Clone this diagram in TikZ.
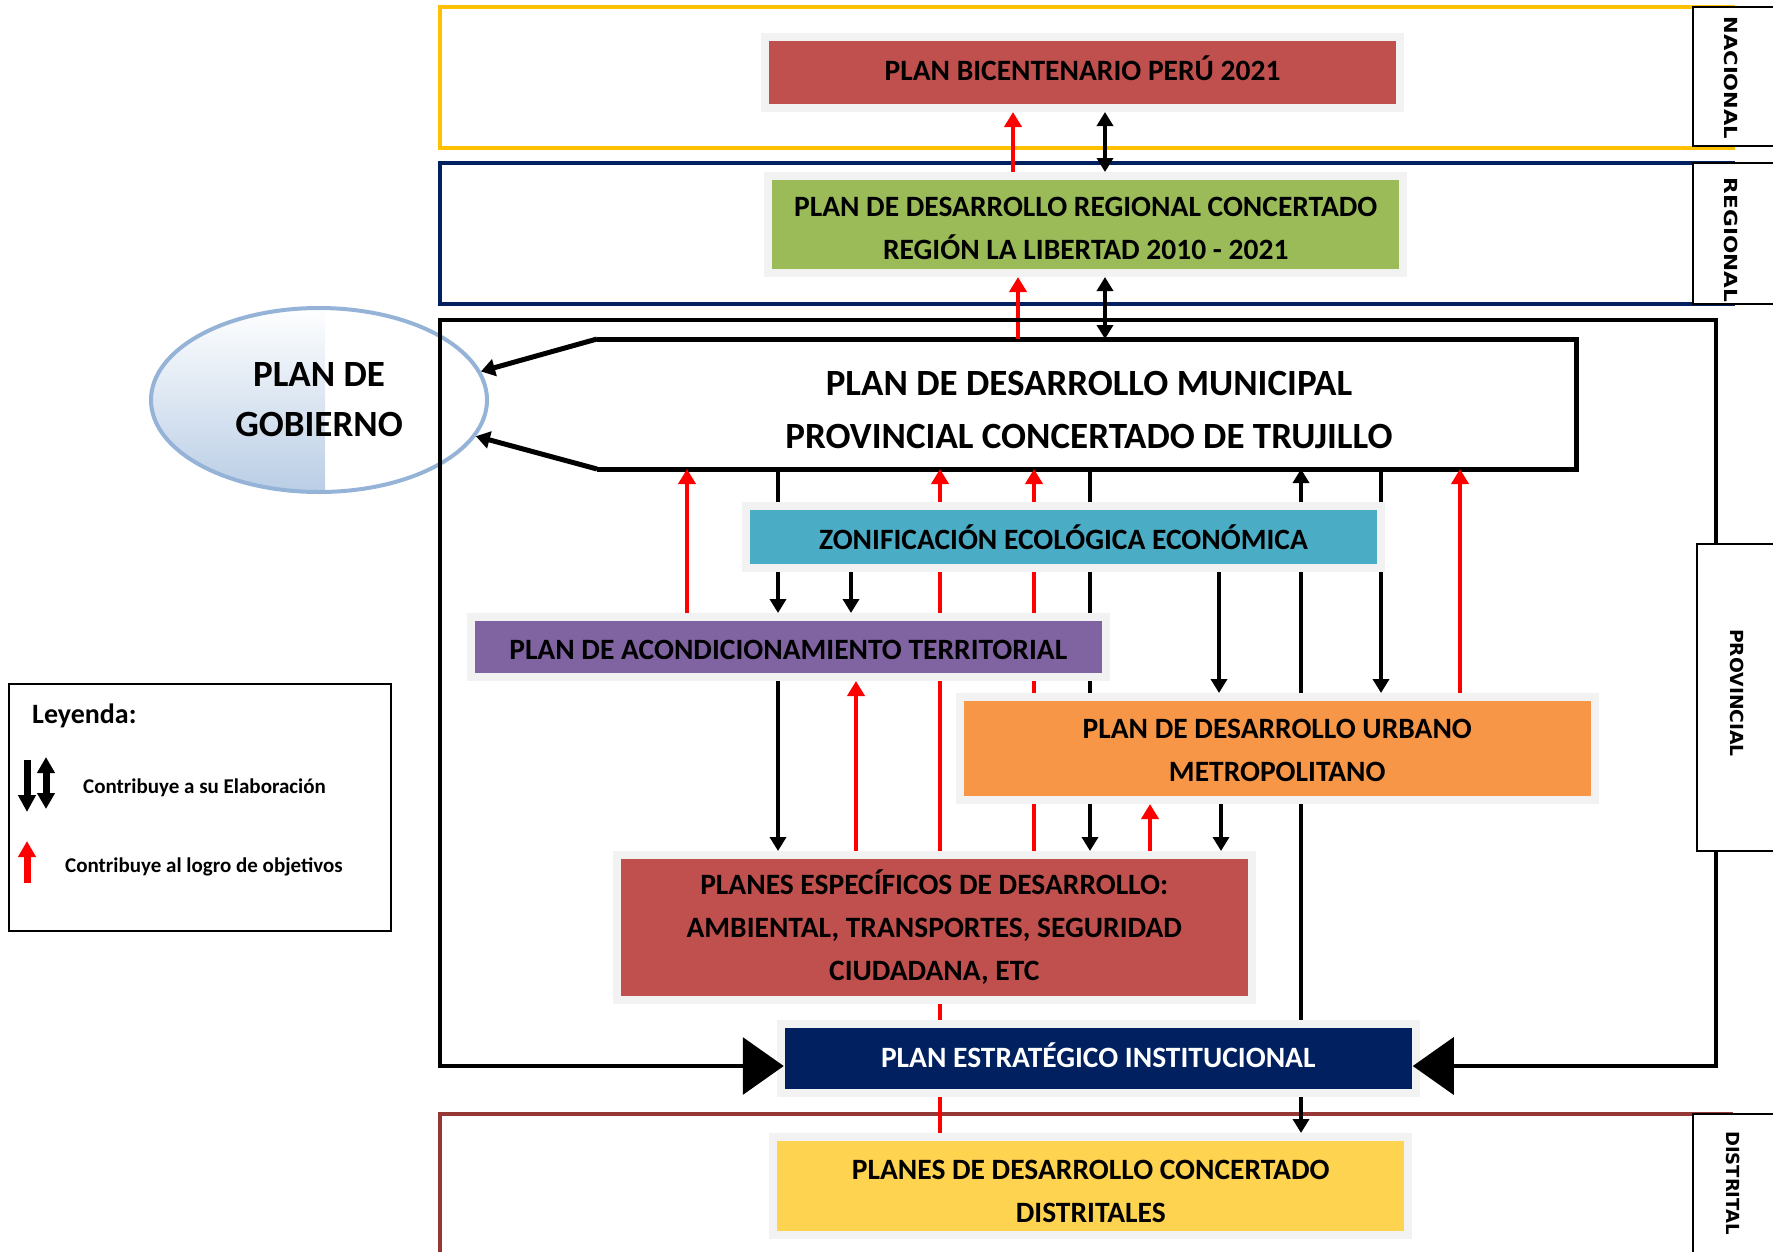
\documentclass[tikz,border=0pt]{standalone}
\usepackage{fontspec}
\usepackage{graphicx}
\setmainfont{Carlito}
\newfontfamily\lblfont{DejaVu Sans}
\usetikzlibrary{arrows.meta,shapes.geometric}
\pgfdeclarelayer{bg}
\pgfsetlayers{bg,main}
\definecolor{bicred}{HTML}{C0504D}
\definecolor{regreen}{HTML}{9BBB59}
\definecolor{zeeblue}{HTML}{4BACC6}
\definecolor{patpurple}{HTML}{8064A2}
\definecolor{pduorange}{HTML}{F79646}
\definecolor{peinavy}{HTML}{002060}
\definecolor{distyellow}{HTML}{FED350}
\definecolor{framegray}{HTML}{F2F2F2}
\definecolor{natyellow}{HTML}{FFC000}
\definecolor{regnavy}{HTML}{002060}
\definecolor{distbrown}{HTML}{953735}
\definecolor{gobline}{HTML}{95B3D7}
\definecolor{gobfill}{HTML}{B9CDE5}
\newcommand{\topstrut}[1]{\rule{0pt}{#1}}
\tikzset{
  planbox/.style={draw=framegray, line width=8pt, minimum width=635pt, inner sep=0pt,
    outer sep=4pt, font=\fontsize{29.5}{43}\selectfont\bfseries, align=center},
  redarr/.style={draw=red, line width=4pt, -{Triangle[length=15pt,width=17pt]}},
  blkarr/.style={draw=black, line width=4pt, -{Triangle[length=14pt,width=16pt]}},
  blkdbl/.style={draw=black, line width=4pt, {Triangle[length=14pt,width=16pt]}-{Triangle[length=14pt,width=16pt]}},
  levelbox/.style={line width=4pt},
  lblbox/.style={draw=black, fill=white, line width=2pt},
  lbltext/.style={font=\lblfont\fontsize{18}{21}\selectfont\bfseries, rotate=-90, inner sep=0pt},
  bigtext/.style={font=\fontsize{37}{53}\selectfont\bfseries, align=center, inner sep=0pt}
}
\begin{document}
\begin{tikzpicture}[x=1pt,y=-1pt]
\useasboundingbox (0,0) rectangle (1773,1251);

% column coordinates
\foreach \c in {687,778,851,856,940,1013,1018,1034,1090,1105,1150,1219,1221,1301,1381,1460}
  {\coordinate (X\c) at (\c,0);}
\coordinate (pl) at (440,1066);
\coordinate (pr) at (1716,1066);

% plan boxes
\node[planbox, fill=bicred, minimum height=71pt, text depth=9pt] (bic) at (1082.5,72.5) {PLAN BICENTENARIO PERÚ 2021};
\node[planbox, fill=regreen, minimum height=97pt] (reg) at (1085.75,224.5) {\topstrut{28pt}PLAN DE DESARROLLO REGIONAL CONCERTADO\\REGIÓN LA LIBERTAD 2010 - 2021};
\node[minimum width=979pt, minimum height=130pt, inner sep=0pt, outer sep=0pt] (mun) at (1086.5,404) {};
\node[bigtext] at (1089,410) {PLAN DE DESARROLLO MUNICIPAL\\PROVINCIAL CONCERTADO DE TRUJILLO};
\node[planbox, fill=zeeblue, minimum height=62.5pt] (zee) at (1063.5,536.75) {ZONIFICACIÓN ECOLÓGICA ECONÓMICA};
\node[planbox, fill=patpurple, minimum height=60pt, text height=24pt, text depth=0pt] (pat) at (788.25,647) {PLAN DE ACONDICIONAMIENTO TERRITORIAL};
\node[planbox, fill=pduorange, minimum height=103pt] (pdu) at (1277.25,748.5) {\topstrut{23pt}PLAN DE DESARROLLO URBANO\\METROPOLITANO};
\node[planbox, fill=bicred, minimum height=144.5pt] (pesp) at (934.25,927.25) {PLANES ESPECÍFICOS DE DESARROLLO:\\AMBIENTAL, TRANSPORTES, SEGURIDAD\\CIUDADANA, ETC};
\node[planbox, fill=peinavy, text=white, minimum height=69pt, text depth=7pt] (pei) at (1098.25,1058.5) {PLAN ESTRATÉGICO INSTITUCIONAL};
\node[planbox, fill=distyellow, minimum height=97.5pt] (dist) at (1090.75,1185.75) {\topstrut{30pt}PLANES DE DESARROLLO CONCERTADO\\DISTRITALES};

\begin{pgfonlayer}{bg}
  % level frames
  \draw[levelbox, natyellow] (440,7) rectangle (1733,148);
  \draw[levelbox, regnavy] (440,163) rectangle (1733,304);
  \draw[levelbox, distbrown] (1733,1114) -- (440,1114) -- (440,1270);
  % ellipse
  \begin{scope}
    \clip (319,400) ellipse [x radius=168pt, y radius=92pt];
    \shade[top color=white, bottom color=gobfill] (140,306) rectangle (325,494);
  \end{scope}
  \node[ellipse, draw=gobline, line width=4pt, minimum width=336pt, minimum height=184pt,
        inner sep=0pt, font=\fontsize{37}{50}\selectfont\bfseries, align=center] (gob) at (319,400) {PLAN DE\\GOBIERNO};
  % municipal box (open on the left)
  \draw[line width=5pt, line join=miter] (mun.north west) -- (mun.north east) -- (mun.south east) -- (mun.south west);
  % connectors
  \draw[redarr] (reg.north -| X1013) -- (bic.south -| X1013);
  \draw[blkdbl] (bic.south -| X1105) -- (reg.north -| X1105);
  \draw[redarr] (mun.north -| X1018) -- (reg.south -| X1018);
  \draw[blkdbl] (reg.south -| X1105) -- (mun.north -| X1105);
  \draw[redarr] (pat.north -| X687) -- (mun.south -| X687);
  \draw[blkarr] (mun.south -| X778) -- (pat.north -| X778);
  \draw[blkarr] (zee.south -| X851) -- (pat.north -| X851);
  \draw[redarr] (dist.north -| X940) -- (mun.south -| X940);
  \draw[redarr] (pesp.north -| X1034) -- (mun.south -| X1034);
  \draw[blkarr] (mun.south -| X1090) -- (pesp.north -| X1090);
  \draw[blkarr] (zee.south -| X1219) -- (pdu.north -| X1219);
  \draw[blkdbl] (mun.south -| X1301) -- (dist.north -| X1301);
  \draw[blkarr] (mun.south -| X1381) -- (pdu.north -| X1381);
  \draw[redarr] (pdu.north -| X1460) -- (mun.south -| X1460);
  \draw[blkarr] (pat.south -| X778) -- (pesp.north -| X778);
  \draw[redarr] (pesp.north -| X856) -- (pat.south -| X856);
  \draw[redarr] (pesp.north -| X1150) -- (pdu.south -| X1150);
  \draw[blkarr] (pdu.south -| X1221) -- (pesp.north -| X1221);
  % to plan de gobierno
  \draw[line width=5pt, -{Triangle[length=14pt,width=17pt]}] (mun.north west) -- (gob.10);
  \draw[line width=5pt, -{Triangle[length=14pt,width=17pt]}] (mun.south west) -- (gob.-13);
\end{pgfonlayer}

% provincial frame with the two big arrows into PEI
\draw[line width=3.5pt, line join=miter, shorten <=-7pt, shorten >=-7pt,
      {Triangle[length=41pt,width=57pt]}-{Triangle[length=41pt,width=57pt]}]
  (pl -| pei.west) -- (pl) -- (440,320) -- (1716,320) -- (pr) -- (pr -| pei.east);

% level labels
\draw[lblbox] (1693,7) rectangle (1800,146);
\node[lbltext] at (1731,78) {\scalebox{1.17}[1]{NACIONAL}};
\draw[lblbox] (1693,163) rectangle (1800,304);
\node[lbltext] at (1731,240) {\scalebox{1.2}[1]{REGIONAL}};
\draw[lblbox] (1697,544) rectangle (1800,851);
\node[lbltext] at (1737,693) {\scalebox{1.04}[1]{PROVINCIAL}};
\draw[lblbox] (1693,1114) rectangle (1800,1270);
\node[lbltext] at (1733,1183) {DISTRITAL};

% legend
\draw[line width=2.5pt] (9,684) rectangle (391,931);
\node[anchor=base west, inner sep=0pt, font=\fontsize{28}{32}\selectfont\bfseries] at (32,723) {Leyenda:};
\draw[line width=7pt, -{Triangle[length=17pt,width=17pt]}] (27,760) -- (27,812);
\draw[line width=7pt, {Triangle[length=16pt,width=17pt]}-{Triangle[length=16pt,width=17pt]}] (46,757) -- (46,809);
\node[anchor=west, inner sep=0pt, font=\fontsize{21}{25}\selectfont\bfseries] at (83,788) {Contribuye a su Elaboración};
\draw[red, line width=7pt, -{Triangle[length=16pt,width=17pt]}] (27,883) -- (27,841);
\node[anchor=west, inner sep=0pt, font=\fontsize{21}{25}\selectfont\bfseries] at (65,867) {Contribuye al logro de objetivos};
\end{tikzpicture}
\end{document}
